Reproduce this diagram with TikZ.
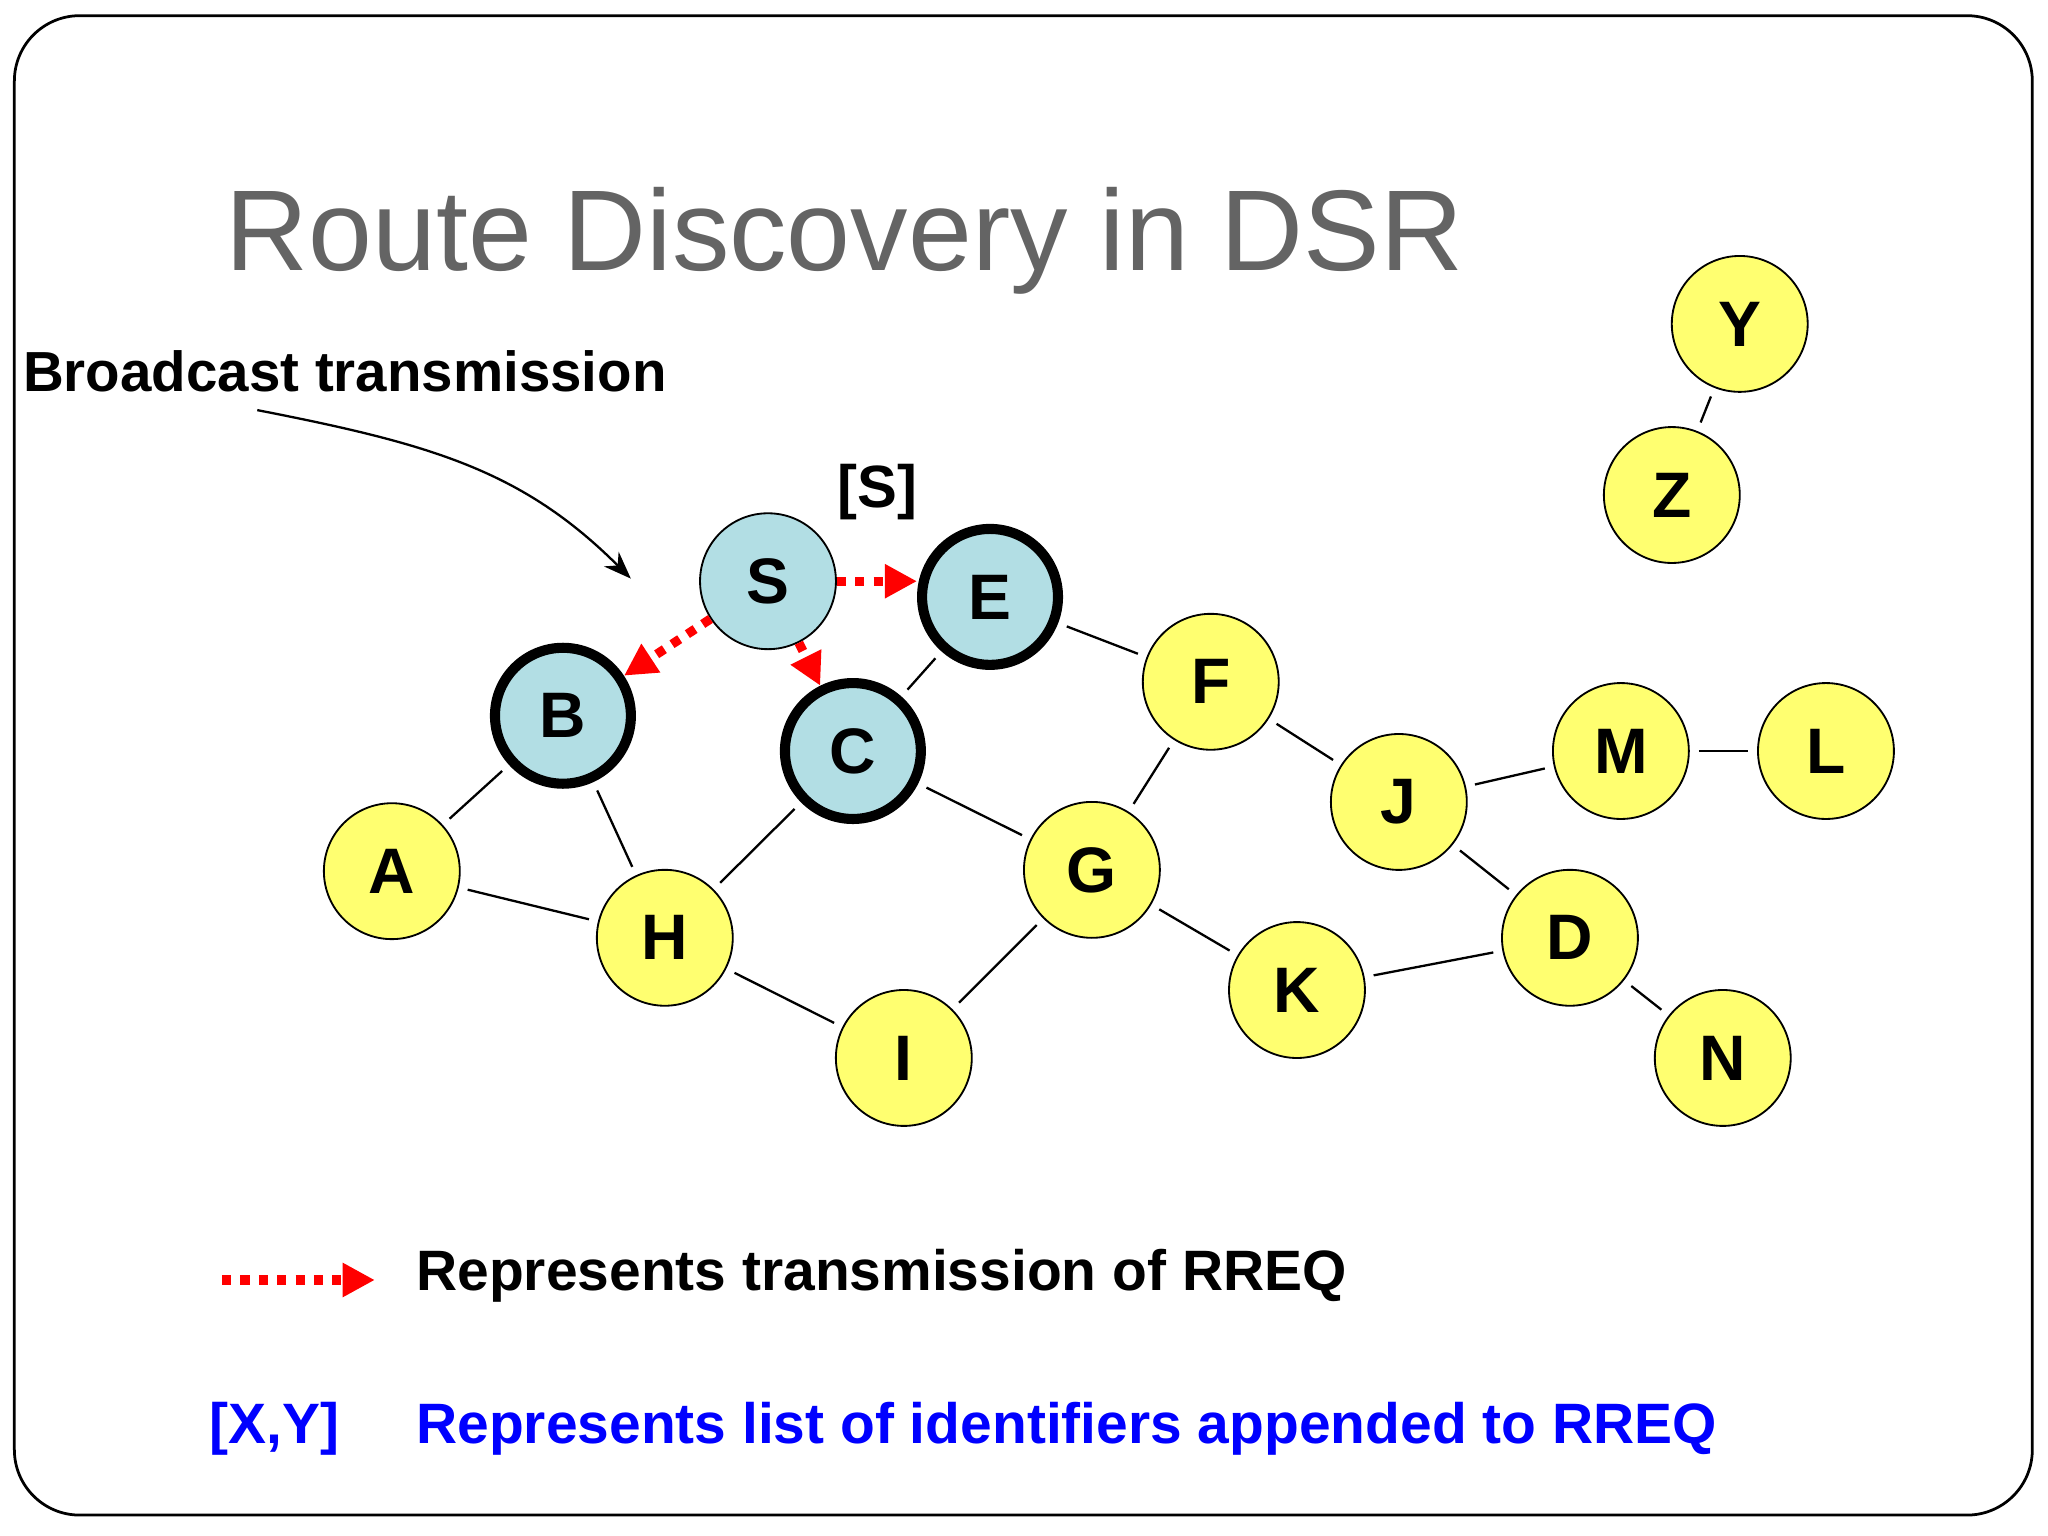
\documentclass[tikz,border=0pt]{standalone}
\usepackage{fontspec}
\setmainfont{Liberation Sans}
\usetikzlibrary{arrows.meta}
\definecolor{nodeyellow}{RGB}{255,255,112}
\definecolor{nodeblue}{RGB}{178,222,228}
\definecolor{titlegray}{RGB}{100,100,100}
\begin{document}
\begin{tikzpicture}[x=0.01cm,y=-0.01cm,
  nd/.style={circle,draw=black,fill=nodeyellow,minimum size=1.04cm,inner sep=0pt,font=\fontsize{14}{14}\selectfont\bfseries},
  bl/.style={nd,fill=nodeblue},
  hl/.style={bl,line width=2.2pt},
  link/.style={draw=black,line width=0.5pt,shorten >=2pt,shorten <=2pt},
  rreq/.style={red,line width=2pt,dotted,-{Triangle[length=7pt,width=7pt,fill=red]}}]
\useasboundingbox (0,0) rectangle (1568,1176);
\draw[line width=0.6pt,rounded corners=0.5cm] (11,12) rectangle (1556,1160);
\node[anchor=base west,text=titlegray,font=\fontsize{25}{25}\selectfont,inner sep=0] (title) at (172,207) {Route Discovery in DSR};
\node[anchor=west,font=\fontsize{12.3}{12.3}\selectfont\bfseries,inner sep=0] (bt) at (17,284) {Broadcast transmission};
\coordinate (bts) at (197,314);
\coordinate (bte) at (483,443);
\draw[-{Stealth[length=6pt]},line width=0.5pt] (bts) .. controls (330,340) and (400,360) .. (bte);
% nodes
\node[bl] (S) at (588,445) {S};
\node[hl] (E) at (758,457) {E};
\node[hl] (B) at (431,548) {B};
\node[hl] (C) at (653,575) {C};
\node[nd] (F) at (927,522) {F};
\node[nd] (J) at (1071,614) {J};
\node[nd] (M) at (1241,575) {M};
\node[nd] (L) at (1398,575) {L};
\node[nd] (A) at (300,667) {A};
\node[nd] (H) at (509,718) {H};
\node[nd] (G) at (836,666) {G};
\node[nd] (I) at (692,810) {I};
\node[nd] (K) at (993,758) {K};
\node[nd] (D) at (1202,718) {D};
\node[nd] (N) at (1319,810) {N};
\node[nd] (Y) at (1332,248) {Y};
\node[nd] (Z) at (1280,379) {Z};
\node[font=\fontsize{13}{13}\selectfont\bfseries] (lS) at (672,377) {[S]};
% links
\foreach \a/\b in {A/B,A/H,B/H,H/C,H/I,C/E,C/G,E/F,F/G,F/J,G/I,G/K,K/D,J/M,M/L,J/D,D/N,Y/Z}
  \draw[link] (\a) -- (\b);
% RREQ
\draw[rreq] (S.east) -- (E.west |- S.east);
\draw[rreq] (S) -- (B);
\draw[rreq] (S) -- (C);
% legend
\coordinate (la) at (170,980);
\coordinate (lb) at (287,980);
\draw[rreq] (la) -- (lb);
\node[anchor=west,font=\fontsize{12.4}{12.4}\selectfont\bfseries,inner sep=0] (lt1) at (318,977) {Represents transmission of RREQ};
\node[anchor=west,text=blue,font=\fontsize{12.4}{12.4}\selectfont\bfseries,inner sep=0] (xy) at (160,1094) {[X,Y]};
\node[anchor=west,text=blue,font=\fontsize{12.4}{12.4}\selectfont\bfseries,inner sep=0] (lt2) at (318,1094) {Represents list of identifiers appended to RREQ};
\end{tikzpicture}
\end{document}
